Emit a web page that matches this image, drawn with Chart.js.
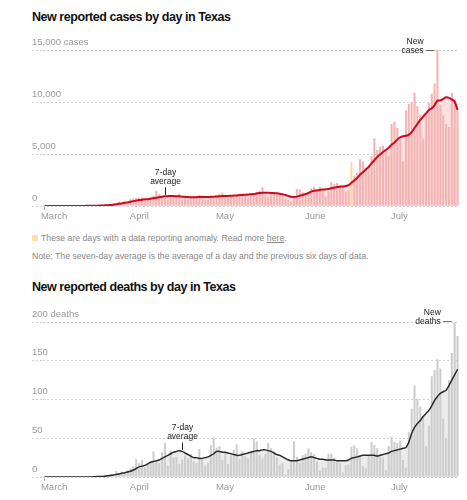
<!DOCTYPE html>
<html><head><meta charset="utf-8">
<script src="https://cdn.jsdelivr.net/npm/chart.js@4/dist/chart.umd.min.js"></script>
<style>
html,body{margin:0;padding:0;background:#fff;}
body{width:467px;height:500px;position:relative;overflow:hidden;font-family:"Liberation Sans",Arial,sans-serif;}
.title{position:absolute;left:32px;font-weight:bold;font-size:12.5px;line-height:15px;letter-spacing:-0.45px;color:#121212;white-space:nowrap;}
.note{position:absolute;font-size:8.7px;line-height:10px;color:#888;white-space:nowrap;}
.sq{position:absolute;left:32px;top:235px;width:6px;height:6px;background:#fde2a4;}
canvas{position:absolute;left:0;}
</style></head><body>
<div class="title" style="top:10px">New reported cases by day in Texas</div>
<canvas id="c1" width="467" height="198" style="top:28px;width:467px;height:198px"></canvas>
<div class="sq"></div>
<div class="note" style="left:41px;top:233px">These are days with a data reporting anomaly. Read more <u>here</u>.</div>
<div class="note" style="left:32px;top:251px">Note: The seven-day average is the average of a day and the previous six days of data.</div>
<div class="title" style="top:280px">New reported deaths by day in Texas</div>
<canvas id="c2" width="467" height="197" style="top:300px;width:467px;height:197px"></canvas>
<script>
// ---- data (Mar 1 2020 – Jul 23 2020, one value per day) ----
const startDate = '2020-03-01';
const monthNames = ['March','April','May','June','July'];
const anomalyDays = ['2020-06-16'];

const cases = [
 0,0,0,0,0,0,0,0,1,2,3,4,8,12,15,18,25,30,50,80,100,60,100,160,250,300,420,380,500,450,700,
 730,750,800,830,560,700,830,1000,1450,1150,1000,780,600,830,990,920,1200,620,780,650,760,820,880,1050,1030,650,620,880,900,1040,
 1140,1290,800,780,1000,1050,1060,1190,1180,1010,820,1150,1090,1340,1460,1800,1010,900,1150,1200,1300,1120,1240,700,600,450,1000,1650,1600,1300,950,
 1100,1700,1850,1600,1850,1500,900,1400,2300,2100,2200,2000,1800,1400,1500,4200,2900,3200,4500,4300,3700,3400,4800,6500,5400,5700,5800,5300,4800,7900,
 8100,7500,6400,4300,9200,9800,10000,10900,9600,8800,6500,8700,9900,10800,11800,15000,9700,8700,7900,7600,10900,10300,9200
];
const casesAvg = [
 0,0,0,0,0,0,0,0,0,0,3,5,7,9,12,15,18,22,28,38,50,62,78,100,128,165,210,250,300,350,410,
 470,520,570,610,640,660,690,740,800,850,880,930,950,960,950,940,930,900,880,860,850,840,850,860,870,870,870,880,890,910,
 930,950,960,970,990,1000,1020,1040,1060,1080,1100,1130,1160,1200,1240,1280,1280,1270,1260,1240,1220,1180,1120,1050,970,880,870,900,980,1060,1150,
 1250,1380,1460,1500,1540,1580,1600,1640,1700,1760,1820,1860,1880,1920,2000,2240,2450,2700,3000,3250,3500,3750,4100,4400,4700,4950,5200,5380,5600,5900,
 6100,6400,6600,6700,6750,6830,7100,7500,7900,8270,8600,8900,9230,9400,9700,10130,10150,10300,10450,10400,10250,10030,9230
];
const deaths = [
 0,0,0,0,0,0,0,0,0,0,0,0,0,0,0,0,1,0,2,1,1,3,2,4,3,8,4,7,6,9,11,
 14,23,18,22,12,16,20,33,20,18,32,44,15,34,25,26,17,22,28,24,30,20,18,36,22,14,18,41,51,38,
 40,22,31,17,28,35,42,23,33,27,24,34,50,46,28,24,30,44,37,33,25,16,18,3,10,20,46,26,18,28,30,
 37,32,30,20,8,12,12,30,30,25,20,18,6,15,16,39,41,37,26,14,11,27,45,41,37,30,25,9,40,52,
 45,44,47,22,12,58,88,118,101,91,78,40,66,130,138,152,140,75,50,125,160,201,182
];
const deathsAvg = [
 0,0,0,0,0,0,0,0,0,0,0,0,0,0,0,0,0.1,0.2,0.4,0.6,0.8,1.1,1.5,2,2.6,3.3,4,4.8,5.6,6.5,7.5,
 9,11,13,14,15,17,19,20,21,22,24,26,28,30,32,33,34,33,31,29,27,25,25,24,24,25,26,28,30,33,
 33,32,32,31,30,29,28,28,29,30,31,32,33,34,34,35,35,34,33,31,29,28,26,24,22,21,21,21,22,23,24,
 25,26,25,24,23,23,22,22,22,22,21,21,21,21,22,24,25,26,27,28,28,28,28,28,27,28,29,30,31,33,
 34,35,36,37,38,45,56,64,69,73,78,82,86,92,99,104,108,110,112,118,125,132,139
];
const casesTicks = [0,5000,10000,15000];
const deathsTicks = [0,50,100,150,200];
const casesAvgLabelDay = '2020-04-12';
const deathsAvgLabelDay = '2020-04-18';

// ---- helpers ----
function buildDays(n){const out=[];const d=new Date(startDate+'T00:00:00Z');for(let i=0;i<n;i++){out.push(d.toISOString().slice(0,10));d.setUTCDate(d.getUTCDate()+1);}return out;}
const days = buildDays(cases.length);
const fmt = v => String(v).replace(/\B(?=(\d{3})+(?!\d))/g, ',');
const isMonthStart = i => days[i] && days[i].slice(8) === '01';
const FONT = '"Liberation Sans", Arial, sans-serif';
Chart.defaults.font.family = FONT;

const annot = {
  id: 'annot',
  afterDatasetsDraw(chart, args, o) {
    const {ctx, scales: {x, y}} = chart;
    ctx.save();
    ctx.font = '8.5px ' + FONT;
    ctx.fillStyle = '#222'; ctx.strokeStyle = '#222'; ctx.lineWidth = 1;
    const ai = days.indexOf(o.avgDay);
    const ax = Math.round(x.getPixelForValue(ai)) + 0.5;
    const ay = y.getPixelForValue(o.avg[ai]);
    ctx.beginPath(); ctx.moveTo(ax, ay - 1.5); ctx.lineTo(ax, ay - 9); ctx.stroke();
    ctx.textAlign = 'center'; ctx.textBaseline = 'alphabetic';
    ctx.fillText('average', ax, ay - 12.5);
    ctx.fillText('7-day', ax, ay - 21.5);
    let pi = 0; o.bars.forEach((v, i) => { if (v > o.bars[pi]) pi = i; });
    const px = x.getPixelForValue(pi) - 3;
    const py = y.getPixelForValue(o.bars[pi]);
    const dash = ' \u2014';
    ctx.textAlign = 'right';
    ctx.fillText(o.word + dash, px, py + 2.5);
    ctx.fillText('New', px - ctx.measureText(dash).width, py - 6);
    ctx.restore();
  }
};

function makeChart(id, bars, avg, ticks, unit, barColor, fillColor, lineColor, lineWidth, avgDay, word) {
  const max = ticks[ticks.length - 1];
  return new Chart(document.getElementById(id), {
    data: {
      labels: days,
      datasets: [
        {type: 'line', data: avg, borderColor: lineColor, borderWidth: lineWidth, pointRadius: 0,
         tension: 0.3, fill: 'origin', backgroundColor: fillColor, order: 0},
        {type: 'bar', data: bars, order: 1, barPercentage: 0.72, categoryPercentage: 1,
         backgroundColor: days.map(d => anomalyDays.includes(d) && unit === 'cases' ? '#fdd698' : barColor)}
      ]
    },
    options: {
      responsive: false, animation: false, devicePixelRatio: 1,
      layout: {padding: {left: 32, right: 8, top: 22, bottom: 0}},
      plugins: {legend: {display: false}, tooltip: {enabled: false}, filler: {drawTime: 'beforeDatasetsDraw'},
                annot: {avg, bars, avgDay, word}},
      scales: {
        x: {
          type: 'category', offset: true,
          grid: {display: true, drawOnChartArea: false, drawTicks: true, tickLength: 4, offset: false,
                 color: c => isMonthStart(c.index) ? '#aaa' : 'rgba(0,0,0,0)'},
          border: {display: false},
          ticks: {autoSkip: false, maxRotation: 0, minRotation: 0, padding: 1, align: 'start', labelOffset: -3.5,
                  color: '#999', font: {size: 9.5},
                  callback: (v, i) => isMonthStart(i) ? monthNames[+days[i].slice(5, 7) - 3] : null},
          afterFit: s => { s.height = 20; }
        },
        y: {
          min: 0, max: max,
          afterBuildTicks: s => { s.ticks = ticks.map(v => ({value: v})); },
          afterFit: s => { s.width = 11; },
          grid: {color: '#d2d2d2', lineWidth: 1, drawTicks: true, tickLength: 11, tickColor: '#d2d2d2', tickBorderDash: [2, 2]},
          border: {display: false, dash: [2, 2]},
          ticks: {mirror: true, crossAlign: 'near', labelOffset: -8, padding: -11, color: '#999', font: {size: 9.5},
                  callback: v => v === max ? fmt(v) + ' ' + unit : fmt(v)}
        }
      }
    },
    plugins: [annot]
  });
}

makeChart('c1', cases, casesAvg, casesTicks, 'cases', '#f4b3b3', '#fde1e1', '#cc0a1f', 2, casesAvgLabelDay, 'cases');
makeChart('c2', deaths, deathsAvg, deathsTicks, 'deaths', '#cdcdcd', '#ececec', '#2a2a2a', 1.5, deathsAvgLabelDay, 'deaths');
</script>
</body></html>
